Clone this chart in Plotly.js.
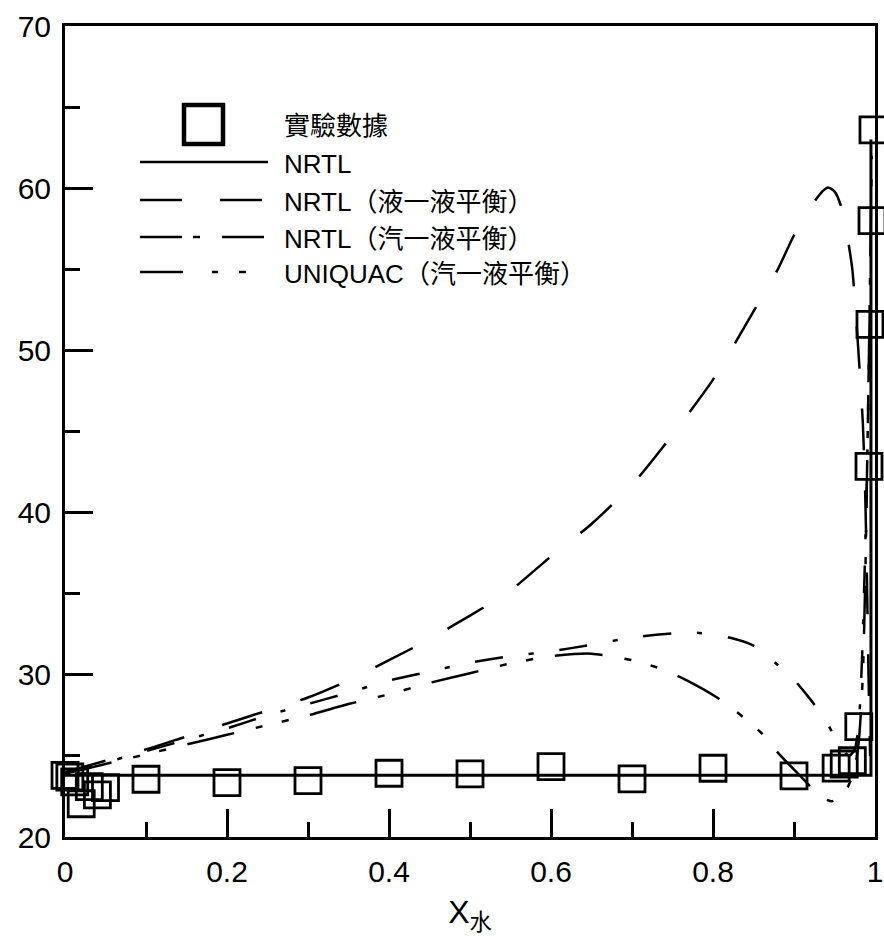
<!DOCTYPE html>
<html>
<head>
<meta charset="utf-8">
<script src="https://cdn.plot.ly/plotly-3.0.1.min.js"></script>
<style>
  html, body { margin: 0; padding: 0; background: #fff; }
  #chart { width: 884px; height: 950px; }
</style>
</head>
<body>
<div id="chart"></div>
<script>
// Experimental points
const expX = [0, 0.006, 0.012, 0.02, 0.03, 0.04, 0.05, 0.1, 0.2, 0.3, 0.4, 0.5, 0.6, 0.7, 0.8, 0.9,
              0.952, 0.962, 0.972, 0.98, 0.9926, 0.9938, 0.9963, 0.9975];
const expY = [23.8, 23.7, 23.4, 22.05, 23.1, 22.6, 23.05, 23.56, 23.35, 23.48, 23.93, 23.89, 24.34, 23.58, 24.24, 23.77,
              24.25, 24.5, 24.7, 26.8, 42.85, 51.6, 58.0, 63.6];

// NRTL
const nrtlX = [0, 0.995, 0.995];
const nrtlY = [23.8, 23.8, 63.0];

// NRTL (liquid-liquid parameters)
const lleX = [0, 0.05, 0.1, 0.15, 0.2, 0.25, 0.3, 0.35, 0.4, 0.45, 0.5, 0.55, 0.6, 0.65, 0.7, 0.75, 0.8, 0.85,
              0.88, 0.9, 0.92, 0.935, 0.942, 0.95, 0.958, 0.965, 0.972, 0.977, 0.981, 0.985, 0.988, 0.99, 0.992, 0.994];
const lleY = [24.0, 24.7, 25.4, 26.2, 27.0, 27.8, 28.6, 29.65, 30.9, 32.2, 33.65, 35.2, 37.3, 39.3, 41.7, 44.8, 48.2, 52.4,
              55.0, 57.1, 58.8, 59.8, 60.05, 59.8, 58.9, 57.3, 55.0, 51.8, 48.8, 45.5, 41.0, 36.0, 30.0, 25.0];

// NRTL (vapour-liquid parameters)
const vleX = [0, 0.05, 0.1, 0.15, 0.2, 0.25, 0.3, 0.35, 0.4, 0.45, 0.5, 0.55, 0.6, 0.65, 0.7, 0.75, 0.78, 0.82, 0.85,
              0.88, 0.9, 0.92, 0.94, 0.95, 0.96, 0.968, 0.975, 0.98, 0.984, 0.987, 0.99, 0.992, 0.994];
const vleY = [24.0, 24.6, 25.3, 26.0, 26.7, 27.5, 28.2, 28.9, 29.65, 30.2, 30.75, 31.15, 31.45, 31.85, 32.3, 32.55, 32.6, 32.3, 31.8,
              30.6, 29.7, 28.5, 27.1, 26.2, 25.4, 25.0, 25.4, 27.0, 31.0, 36.0, 42.0, 48.0, 54.0];

// UNIQUAC (vapour-liquid parameters)
const uniX = [0, 0.05, 0.1, 0.15, 0.2, 0.25, 0.3, 0.35, 0.4, 0.45, 0.5, 0.55, 0.6, 0.65, 0.7, 0.74, 0.77, 0.805, 0.837,
              0.86, 0.88, 0.905, 0.933, 0.947, 0.962, 0.974, 0.98, 0.985, 0.988, 0.99, 0.992, 0.994, 0.996];
const uniY = [23.9, 24.5, 25.1, 25.7, 26.3, 26.9, 27.5, 28.2, 28.8, 29.5, 30.1, 30.7, 31.15, 31.3, 30.9, 30.3, 29.6, 28.6, 27.4,
              26.4, 25.2, 23.9, 22.5, 22.2, 22.7, 24.0, 25.9, 30.0, 36.0, 42.0, 48.0, 55.0, 62.0];

const legendLabels = ['實驗數據', 'NRTL', 'NRTL（液一液平衡）', 'NRTL（汽一液平衡）', 'UNIQUAC（汽一液平衡）'];

const dashLLE = '42px,40px';
const dashVLE = '28px,26px,5px,26px';
const dashUNI = '48px,22px,7px,20px,7px,22px';

// plot-area box in page pixels, used to place the hand-drawn key
const W = 884, H = 950;
const M = {l: 65, r: 9, t: 26, b: 113};
const pl = M.l, pr = W - M.r, pt = M.t, pb = H - M.b;
const fx = x => (x - pl) / (pr - pl);
const fy = y => (pb - y) / (pb - pt);

const ink = '#000';
const txtFont = {family: 'Liberation Sans, Arial, "Noto Sans CJK TC", sans-serif', size: 26, color: ink};

const traces = [
  {x: nrtlX, y: nrtlY, mode: 'lines', line: {color: ink, width: 3}, cliponaxis: false},
  {x: lleX, y: lleY, mode: 'lines', line: {color: ink, width: 2.5, dash: dashLLE, shape: 'spline', smoothing: 0.6}},
  {x: vleX, y: vleY, mode: 'lines', line: {color: ink, width: 2.5, dash: dashVLE, shape: 'spline', smoothing: 0.6}},
  {x: uniX, y: uniY, mode: 'lines', line: {color: ink, width: 2.5, dash: dashUNI, shape: 'spline', smoothing: 0.6}},
  {x: expX, y: expY, mode: 'markers', cliponaxis: false,
   marker: {symbol: 'square-open', size: 26, color: ink, line: {color: ink, width: 2.8}}}
];

// key rows (page y of each row) and sample-line extent
const rowY = [124, 162, 200, 237, 272];
const lineL = 140, lineR = 268, textX = 282;

const shapes = [
  {type: 'rect', xref: 'paper', yref: 'paper',
   x0: fx(184), x1: fx(223), y0: fy(144), y1: fy(105), line: {color: ink, width: 4.5}},
  {type: 'line', xref: 'paper', yref: 'paper', x0: fx(lineL), x1: fx(lineR), y0: fy(rowY[1]), y1: fy(rowY[1]),
   line: {color: ink, width: 2.5}},
  {type: 'line', xref: 'paper', yref: 'paper', x0: fx(lineL), x1: fx(lineR), y0: fy(rowY[2]), y1: fy(rowY[2]),
   line: {color: ink, width: 2.5, dash: '42px,38px'}},
  {type: 'line', xref: 'paper', yref: 'paper', x0: fx(lineL), x1: fx(lineR), y0: fy(rowY[3]), y1: fy(rowY[3]),
   line: {color: ink, width: 2.5, dash: '42px,11px,7px,22px'}},
  {type: 'line', xref: 'paper', yref: 'paper', x0: fx(lineL), x1: fx(lineR), y0: fy(rowY[4]), y1: fy(rowY[4]),
   line: {color: ink, width: 2.5, dash: '43px,29px,6px,21px,7px,40px'}}
];

const annotations = legendLabels.map((t, i) => ({
  text: t, xref: 'paper', yref: 'paper', x: fx(textX), y: fy(rowY[i] + 2),
  xanchor: 'left', yanchor: 'middle', showarrow: false, font: txtFont
}));

const axisCommon = {
  showline: true, linecolor: ink, linewidth: 3, mirror: true,
  ticks: 'inside', ticklen: 28, tickwidth: 3, tickcolor: ink,
  showgrid: false, zeroline: false,
  tickfont: {family: 'Liberation Sans, Arial, sans-serif', size: 30, color: ink}
};

const layout = {
  width: W, height: H,
  margin: M,
  paper_bgcolor: '#fff', plot_bgcolor: '#fff',
  showlegend: false,
  xaxis: Object.assign({}, axisCommon, {
    range: [0, 1], dtick: 0.2, tick0: 0,
    minor: {dtick: 0.1, ticks: 'inside', ticklen: 15, tickwidth: 3, tickcolor: ink},
    ticklabelstandoff: 6,
    title: {text: 'X<sub>水</sub>', standoff: 14,
            font: {family: 'Liberation Sans, Arial, "Noto Sans CJK TC", sans-serif', size: 32, color: ink}}
  }),
  yaxis: Object.assign({}, axisCommon, {
    range: [20, 70], dtick: 10, tick0: 20,
    minor: {dtick: 5, ticks: 'inside', ticklen: 15, tickwidth: 3, tickcolor: ink},
    ticklabelstandoff: 5
  }),
  shapes: shapes,
  annotations: annotations
};

Plotly.newPlot('chart', traces, layout, {displayModeBar: false, staticPlot: true});
</script>
</body>
</html>
